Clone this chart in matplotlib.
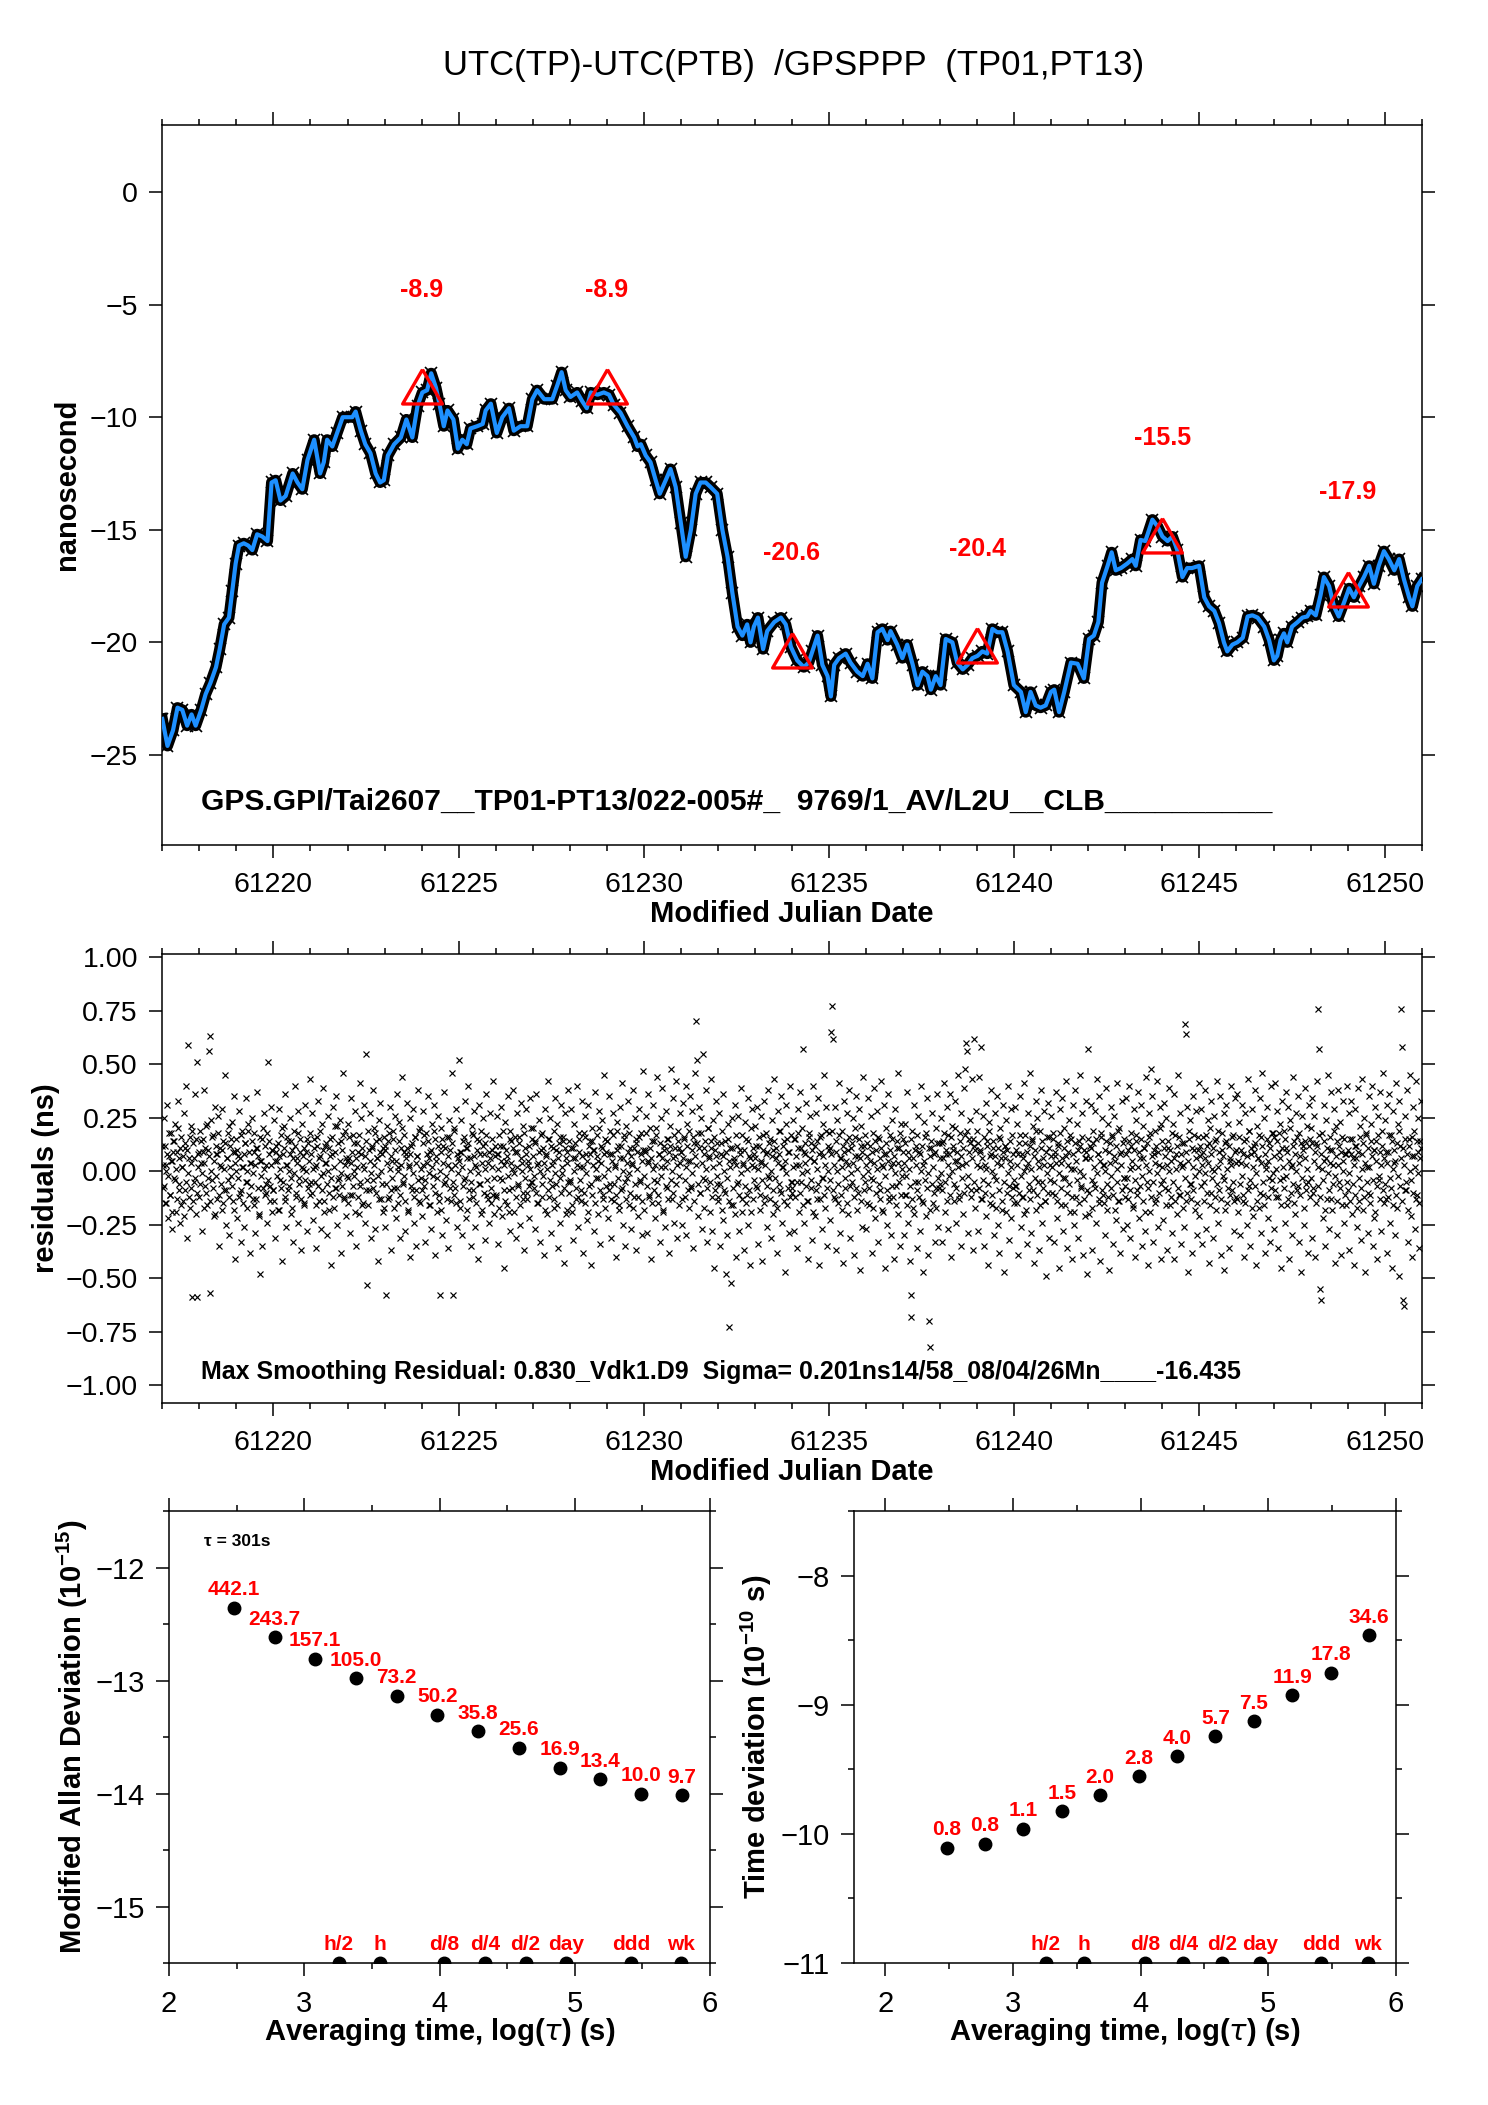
import numpy as np
import matplotlib
matplotlib.use("Agg")
import matplotlib.pyplot as plt
from matplotlib.ticker import MultipleLocator, FuncFormatter

plt.rcParams['font.family'] = ['Liberation Sans', 'DejaVu Sans']
plt.rcParams['mathtext.fontset'] = 'custom'
plt.rcParams['mathtext.rm'] = 'Liberation Sans'
plt.rcParams['mathtext.bf'] = 'Liberation Sans:bold'
plt.rcParams['axes.linewidth'] = 1.1

TITLE = "UTC(TP)-UTC(PTB)  /GPSPPP  (TP01,PT13)"
INFO_TOP = "GPS.GPI/Tai2607__TP01-PT13/022-005#_  9769/1_AV/L2U__CLB__________"
INFO_MID = "Max Smoothing Residual: 0.830_Vdk1.D9  Sigma= 0.201ns14/58_08/04/26Mn____-16.435"

# smoothed curve (days after MJD0, ns)
MJD0 = 61217.0
SMOOTH_DAY = [0.00, 0.14, 0.29, 0.41, 0.54, 0.67, 0.79, 0.90, 1.05, 1.17, 1.30, 1.45, 1.55, 1.67, 1.80,
              1.89, 1.98, 2.07, 2.20, 2.32, 2.43, 2.56, 2.70, 2.84, 2.95, 3.06, 3.19, 3.33, 3.52, 3.65,
              3.78, 3.92, 4.10, 4.26, 4.36, 4.45, 4.59, 4.72, 4.87, 5.00, 5.13, 5.22, 5.36, 5.48, 5.62,
              5.76, 5.88, 5.98, 6.09, 6.26, 6.44, 6.59, 6.75, 6.89, 7.02, 7.15, 7.26, 7.39, 7.48, 7.60,
              7.70, 7.86, 7.98, 8.10, 8.22, 8.32, 8.50, 8.65, 8.73, 8.87, 9.03, 9.18, 9.36, 9.49, 9.67,
              9.85, 9.99, 10.12, 10.31, 10.53, 10.66, 10.78, 10.89, 11.02, 11.20, 11.34, 11.46, 11.57,
              11.75, 11.92, 12.06, 12.19, 12.37, 12.56, 12.74, 12.83, 12.92, 13.05, 13.18, 13.32, 13.43,
              13.59, 13.72, 13.86, 14.00, 14.13, 14.27, 14.40, 14.53, 14.67, 14.80, 14.98, 15.12, 15.26,
              15.39, 15.53, 15.66, 15.79, 15.88, 15.97, 16.08, 16.22, 16.33, 16.52, 16.70, 16.83, 16.97,
              17.14, 17.32, 17.45, 17.55, 17.69, 17.82, 17.96, 18.05, 18.14, 18.27, 18.45, 18.58, 18.76,
              18.91, 19.04, 19.17, 19.31, 19.44, 19.58, 19.66, 19.84, 19.98, 20.11, 20.26, 20.39, 20.52,
              20.66, 20.75, 20.88, 21.01, 21.15, 21.33, 21.46, 21.61, 21.74, 21.87, 22.01, 22.14, 22.27,
              22.41, 22.54, 22.68, 22.82, 22.99, 23.18, 23.31, 23.44, 23.58, 23.71, 23.85, 23.99, 24.08,
              24.21, 24.35, 24.53, 24.71, 24.88, 25.02, 25.15, 25.27, 25.37, 25.52, 25.63, 25.74, 25.88,
              26.05, 26.19, 26.28, 26.41, 26.54, 26.73, 26.87, 27.00, 27.14, 27.27, 27.40, 27.54, 27.67,
              27.80, 27.99, 28.13, 28.26, 28.40, 28.53, 28.66, 28.75, 28.89, 29.02, 29.17, 29.30, 29.43,
              29.57, 29.75, 29.88, 30.01, 30.10, 30.19, 30.28, 30.37, 30.50, 30.65, 30.78, 30.91, 31.00,
              31.14, 31.27, 31.36, 31.50, 31.63, 31.76, 31.91, 32.04, 32.17, 32.31, 32.44, 32.58, 32.71,
              32.84, 32.98, 33.11, 33.26, 33.39, 33.52, 33.66, 33.75, 33.88, 34.00]
SMOOTH_NS = [-23.4, -24.6, -23.9, -22.9, -23.0, -23.7, -23.2, -23.7, -23.0, -22.3, -21.8, -21.1, -20.3, -19.2, -18.9,
             -17.7, -16.5, -15.7, -15.6, -15.7, -15.9, -15.2, -15.3, -15.5, -12.9, -12.8, -13.7, -13.5, -12.5, -12.9,
             -13.2, -11.9, -11.0, -12.5, -12.0, -11.0, -11.3, -10.7, -10.0, -10.0, -10.0, -9.75, -10.6, -11.2, -11.6,
             -12.5, -12.9, -12.8, -11.7, -11.2, -10.9, -10.1, -10.9, -9.5, -8.9, -8.8, -8.05, -8.7, -9.4, -10.4,
             -9.7, -10.1, -11.4, -11.0, -11.2, -10.5, -10.4, -10.3, -9.7, -9.4, -10.7, -10.0, -9.6, -10.6, -10.4,
             -10.4, -9.2, -8.8, -9.2, -9.2, -8.6, -8.0, -8.8, -9.1, -8.9, -9.3, -9.6, -8.9,
             -9.0, -8.9, -9.0, -9.45, -9.8, -10.4, -10.9, -11.3, -11.2, -11.7, -12.0, -12.8, -13.4,
             -12.8, -12.3, -13.1, -14.7, -16.2, -15.0, -13.4, -12.9, -12.9, -13.1, -13.4, -15.0, -16.2,
             -17.8, -19.3, -19.7, -19.2, -20.0, -19.3, -18.9, -20.3, -19.5, -19.1, -18.9, -19.2, -20.2,
             -20.8, -21.1, -20.9, -20.4, -19.7, -21.0, -21.5, -22.4, -21.0, -20.7, -20.5, -20.9, -21.3,
             -21.5, -20.95, -21.6, -19.55, -19.4, -19.9, -19.5, -20.1, -20.7, -20.1, -21.0, -21.9, -21.3,
             -21.5, -22.1, -21.5, -21.9, -19.85, -20.0, -20.9, -21.2, -21.0, -20.7, -20.6, -20.4, -20.5,
             -19.4, -19.55, -19.55, -20.4, -21.9, -22.2, -23.1, -22.2, -22.8, -22.9, -22.8, -22.2, -22.1,
             -23.1, -22.2, -20.9, -20.95, -21.6, -19.85, -19.7, -19.1, -17.35, -16.6, -16.0, -16.8, -16.7,
             -16.5, -16.3, -16.6, -15.45, -15.5, -14.55, -14.85, -15.3, -15.5, -15.3, -15.9, -17.1, -16.7,
             -16.7, -16.6, -18.0, -18.4, -18.6, -19.15, -20.0, -20.4, -20.1, -20.0, -19.8, -18.85, -18.8,
             -18.9, -19.3, -19.9, -20.8, -20.6, -19.9, -19.6, -20.0, -19.3, -19.1, -18.9, -18.85, -18.6,
             -18.8, -17.9, -17.1, -17.5, -18.4, -18.85, -18.2, -17.6, -18.0, -17.5, -17.1, -16.6, -17.4,
             -16.6, -15.95, -16.3, -16.8, -16.3, -17.2, -18.0, -18.4, -17.5, -17.2]

TRI_MJD = [61224, 61229, 61234, 61239, 61244, 61249]
TRI_NS = [-8.9, -8.9, -20.6, -20.4, -15.5, -17.9]

# residuals in 0.01 ns, one row per day: wider scatter incl. outliers
RESID_ROWS = [
    [12, -8, 25, -15, 3, 31, -22, 7, -11, 18, -27, 5, 14, -3, 22, -19, 9, 33, -6, -24, 16, 2, -14, 27, -9, 11, 40, -31, 59, 6, -17, 21, -59, 13, -5, 36, -20, 51, -59, 8],
    [-12, 19, 4, -28, 15, 38, -7, 21, -16, 10, 56, 63, -57, 24, -4, 17, -21, 30, 8, -13, 26, -35, 11, 2, -18, 29, 14, -9, 45, -25, 6, 18, -30, 12, -2, 23, -14, 35, -41, 9],
    [15, -22, 7, 28, -10, -33, 19, 2, -26, 13, 34, -5, -17, 22, 9, -38, 4, 25, -13, 18, -29, 11, 37, -8, -21, -48, 16, 5, -35, 20, 27, -11, 3, -24, 51, 14, -7, 30, -19, 10],
    [-9, 24, -31, 12, 5, -18, 29, -4, 17, -42, 8, 21, -14, 36, -26, 3, 14, -7, 25, -20, 10, -33, 19, 40, -12, 6, -24, 28, -3, 15, -37, 22, 1, -16, 31, 9, -28, 13, -6, 43],
    [18, -5, 27, -23, 11, 2, -36, 16, 33, -14, 7, -27, 22, -1, 39, -19, 12, 4, -30, 26, -10, 15, -44, 8, 30, -17, 21, -8, 35, -25, 13, -3, 24, -38, 10, 46, -12, 19, -21, 5],
    [-15, 22, 6, -29, 34, -11, 17, -2, 28, -35, 13, 9, -20, 41, -7, 25, -16, 3, 31, -24, 55, -53, 19, -9, 27, -31, 11, 38, -4, 20, -27, 14, 6, -42, 24, 32, -13, 8, -19, 16],
    [10, -26, -58, 21, 14, -12, 30, -37, 5, 19, -8, 26, -22, 36, 2, -15, 23, -31, 11, 44, -6, 17, -28, 8, 32, -18, 3, -40, 25, 12, -9, 29, -24, 16, -35, 7, 38, -14, 20, -3],
    [-21, 13, 28, -7, -33, 18, 4, 35, -16, 9, -27, 22, -2, 31, -39, 15, 7, -19, 26, -11, -58, 20, -30, 12, 37, -5, -23, 16, 3, -36, 24, 10, -14, 46, -58, 19, -8, 29, -26, 6],
    [52, -17, 9, 24, -30, 14, -4, 33, -22, 11, 40, -13, 6, -35, 21, 17, -9, 28, -26, 2, 15, -41, 31, -6, 19, -18, 25, 8, -32, 13, 36, -11, 4, -24, 27, -15, 10, 42, -20, 7],
    [-12, 26, -34, 8, 17, -3, 30, -21, 12, -45, 23, 5, -16, 35, -9, 19, -28, 14, 1, 38, -19, 9, -31, 27, -7, 16, -25, 32, 4, -13, 21, -37, 11, 29, -10, 3, -22, 34, -5, 15],
    [20, -8, 13, -27, 36, -15, 4, 24, -33, 10, 18, -2, -39, 29, 7, -20, 15, 42, -12, 25, -29, 3, 11, -17, 34, -6, 22, -36, 9, 16, -24, 31, -1, 14, -43, 27, 6, -18, 38, -10],
    [-4, 29, -19, 11, -32, 22, 6, -13, 40, -26, 15, 2, -9, 33, -38, 18, 26, -15, 8, -23, 31, -7, 14, -44, 20, 10, -28, 37, -3, 17, -20, 5, 28, -34, 12, 24, -11, 45, -17, 9],
    [14, -22, 35, -6, 19, -31, 8, 27, -14, 3, -40, 23, 12, -18, 30, -9, 41, -25, 6, 17, -35, 21, -3, 33, -16, 11, -27, 4, 38, -12, 25, -37, 15, 9, -21, 29, -5, 18, -30, 47],
    [-18, 10, 26, -29, 5, 36, -11, 20, -41, 14, 31, -4, -22, 17, 44, -15, 8, -33, 25, 2, 39, -19, 12, -26, 28, -8, 15, -38, 21, 48, -13, 6, 34, -24, 11, 42, -31, 19, -2, 27],
    [9, -25, 32, 16, -12, 40, -30, 22, 5, -17, 35, -8, 28, -36, 13, 46, 70, 52, -21, 18, 30, -10, 25, -27, 55, 11, -4, 38, -33, 20, 7, -19, 43, 14, -28, 24, -45, 10, 33, -6],
    [-14, 27, -35, 8, 19, -23, 36, -9, 14, -48, -30, 22, -73, 11, -52, 25, -16, 5, 31, -40, 17, -6, 26, -28, 10, 39, -19, 3, -37, 23, 15, -11, 34, -25, 7, -44, 20, 29, -13, 2],
    [21, -7, 30, -34, 12, -18, 26, 4, -42, 17, 33, -12, 8, -26, 38, -3, 15, -31, 24, 10, -20, 43, -15, 6, -38, 28, 19, -9, 35, -24, 2, 14, -47, 22, 31, -16, 9, -29, 40, -5],
    [-10, 24, -28, 15, 3, -36, 29, 11, -19, 37, -5, 20, 57, -24, 8, 32, -14, -41, 18, 26, -8, 13, -32, 40, 5, -21, 27, -13, 34, -44, 16, 9, -27, 22, -3, 45, -17, 30, -35, 12],
    [18, -23, 65, 77, 62, -12, 30, -37, 9, 24, -15, 41, -29, 6, 19, -43, 33, -8, 14, 27, -20, 3, 38, -31, 11, -5, 25, -39, 16, 35, -18, 7, 29, -46, 21, 12, -26, 44, -9, 17],
    [-27, 13, 34, -16, 5, 26, -38, 18, -4, 39, -22, 10, 28, -33, 15, -9, 42, -18, 2, 31, -45, 20, 8, -25, 36, -12, 17, -30, 24, 4, -41, 29, -7, 14, 46, -20, 11, -35, 22, -2],
    [15, -30, 22, -11, 37, -24, 6, -42, -68, -58, 19, -17, 31, -5, 12, -36, 26, 9, -28, 40, -14, 3, -47, 23, 16, -21, 34, -39, -70, -82, 11, 27, -15, 8, -33, 20, -8, 36, -26, 13],
    [-6, 25, -33, 14, 41, -19, 8, 30, -27, 17, -2, 36, -40, 21, 10, -14, 33, -24, 5, 45, -11, 18, -35, 27, 3, -20, 39, 48, 60, 56, -29, 15, 24, -9, 43, -37, 62, 12, -17, 28],
    [19, -28, 44, 9, 58, -13, 26, -35, 3, 32, -21, 14, -44, 23, 7, 38, -16, 11, -30, 27, -4, 35, -25, 16, -38, 20, 6, -18, 31, -47, 12, 24, -10, 40, -32, 5, 29, -22, 17, -8],
    [-15, 30, -7, 22, -39, 13, 35, -26, 8, -12, 41, -20, 17, 2, -34, 27, -9, 46, -29, 14, 21, -43, 10, 33, -18, 25, -5, -37, 19, 38, -24, 6, 28, -14, -49, 16, 32, -31, 11, 3],
    [26, -10, 18, -33, 7, 37, -22, 13, -45, 29, 4, -16, 34, -28, 20, -3, 42, -36, 9, 24, -19, 15, -41, 31, 1, -25, 38, -12, 22, -31, 14, 45, -8, 27, -39, 10, -21, 33, 6, -48],
    [57, -20, 12, 31, -37, 19, -6, 28, -24, 43, 8, -15, 35, -42, 16, 25, -11, 3, -30, 39, -18, 22, -46, 13, 30, -8, 17, -34, 26, 5, -23, 41, -14, 20, -38, 9, 33, -27, 15, -3],
    [-12, 34, -25, 10, 40, -31, 18, 2, -17, 29, -40, 14, 24, -9, 37, -22, 6, 31, -35, 21, 11, -28, 44, -5, -44, 16, 27, -19, 48, 35, -33, 8, 19, -13, 42, -26, 3, 30, -41, 22],
    [14, -23, 32, -8, 25, -37, 11, 39, -16, 5, -29, 22, 36, -41, 17, 8, -20, 45, -11, 27, -34, 13, 3, -26, 69, 64, -14, 30, -47, 19, 24, -6, -38, 35, 10, -18, 28, -30, 16, 41],
    [-21, 7, 29, -34, 16, -5, 38, -27, 12, 24, -43, 20, -10, 33, 1, -31, 26, 14, -18, 42, -24, 9, 35, -39, 18, -2, 27, -46, 13, 31, -15, 22, -36, 5, 40, -9, 17, -28, 34, -12],
    [10, 36, -19, 23, -30, 4, 31, -14, -40, 27, 15, -25, 43, -7, 19, -35, 8, 29, -21, 12, 38, -44, 21, 6, -17, 34, -29, 16, 46, -11, 25, -38, 3, 30, -22, 13, -33, 40, -4, 18],
    [-27, 16, 41, -12, 28, -36, 9, 22, -45, 33, -3, 19, -24, 37, 11, -16, 30, -41, 24, 2, -30, 44, 14, -20, 27, -9, 35, -33, 18, 7, -47, 26, 12, -25, 39, -6, 21, -38, 31, 15],
    [20, -31, 34, -8, 26, -40, 13, 42, 76, 57, -55, -60, 18, -22, 31, 5, -35, 24, -13, 45, -27, 10, 37, -18, 3, 29, -43, 21, 14, -30, 38, -5, 23, -39, 16, 33, -24, 8, -16, 40],
    [-9, 27, -37, 15, 33, -20, 6, -44, 29, 12, -26, 39, -14, 21, -32, 8, 43, -18, 25, -47, 17, 2, -29, 35, -11, 22, 40, -35, 10, -22, 30, 14, -41, 26, -4, 37, -28, 19, 46, -15],
    [24, -13, 31, -38, 9, 36, -24, 17, -45, 28, 4, -30, 41, -17, 22, -49, 33, 12, 76, 58, -60, -63, 26, -9, 38, -33, 15, 45, -21, 7, -40, 30, 19, -27, 42, -11, 25, -36, 14, 33],
]
# residuals in 0.01 ns, one row per day: the dense core of the cloud
CORE_ROWS = [
    [3, -7, 12, -15, 0, 8, -2, 18, -11, 5, -19, 9, 14, -4, 1, -13, 20, 6, -9, 11, -16, 2, 7, -21, 13, -5, 10, -1, -12, 16, 4, -8, 19, -14, 6, -3, 15, -10, 2, 9],
    [-6, 14, -1, 9, -17, 4, 11, -10, 22, -3, 7, -14, 0, 16, -8, 5, -20, 12, -2, 8, 18, -11, 3, -6, 10, -15, 1, 13, -9, 6, -4, 21, -12, 2, 15, -7, 9, -18, 4, 0],
    [10, -3, -12, 6, 17, -9, 2, -15, 8, 13, -5, 0, 19, -11, 4, -7, 14, -1, -16, 9, 3, -13, 11, 7, -20, 5, -2, 15, -8, 1, 12, -6, -10, 18, -4, 8, -14, 3, 10, -9],
    [-14, 5, 9, -2, 13, -18, 7, 1, -8, 20, -5, 11, -12, 3, 16, -9, 0, 8, -3, 14, -17, 6, -1, 12, -10, 4, 18, -6, 9, -13, 2, 7, -15, 11, -4, 0, 15, -8, 5, -11],
    [8, -10, 1, 15, -5, 3, -16, 12, -7, 6, 19, -2, -9, 10, -14, 4, 13, -6, 0, -18, 11, 7, -3, 16, -12, 2, 9, -8, 21, -4, -11, 5, 14, -1, -7, 17, -13, 3, 6, -2],
    [-3, 16, -11, 4, 9, -7, 0, 13, -19, 6, 2, -12, 17, -5, 8, 11, -15, 1, 7, -9, 14, -4, -16, 10, 5, -1, 12, -8, 3, 18, -10, 6, -2, 15, -13, 9, 0, -6, 11, -17],
    [12, -6, 4, -13, 18, 1, -9, 7, -3, 15, -17, 10, 5, -8, 0, 14, -11, 3, 20, -5, -2, 9, -14, 6, 11, -19, 2, 8, -7, 13, -1, -12, 16, 4, -9, 7, -4, 19, -15, 1],
    [-9, 3, 17, -4, -12, 8, 14, -1, 6, -16, 10, 2, -7, 19, -10, 5, -3, 12, -14, 0, 9, -18, 15, 4, -6, 11, -2, -13, 7, 16, -8, 1, 13, -5, -11, 20, 3, -15, 8, -1],
    [5, -14, 9, 2, -7, 16, -3, 11, -18, 6, 13, -9, 0, -5, 18, -12, 7, 3, -15, 10, -1, 14, -6, 8, -20, 4, 12, -10, 1, 17, -4, -13, 9, 6, -8, 2, 15, -11, -3, 12],
    [-11, 8, 1, -17, 12, 5, -4, 19, -9, 3, -14, 10, 7, -2, -19, 15, 4, -8, 11, -1, 16, -12, 2, 9, -6, 13, -16, 6, 0, -10, 18, -3, 8, -13, 5, 12, -7, 1, 20, -5],
    [7, -2, 14, -10, 3, -15, 9, 0, 17, -6, -12, 11, 4, -18, 8, 1, -9, 15, -4, 12, -7, 5, 19, -13, -1, 10, -16, 6, 13, -3, -10, 2, 16, -8, 11, -20, 4, 9, -5, 14],
    [-5, 11, -16, 6, 0, 13, -8, 3, -12, 18, 9, -4, -14, 7, 2, -10, 16, -1, 5, -19, 12, 8, -6, 14, -11, 3, 10, -15, 1, 7, -3, 20, -9, 4, 11, -13, -2, 8, 15, -7],
    [14, 1, -9, 8, -13, 5, 17, -6, 2, -11, 10, 19, -3, -16, 6, 12, -8, 0, 15, -5, -13, 4, 9, -1, 18, -10, 7, 3, -17, 11, -6, 13, 1, -12, 16, -4, 8, -14, 5, 10],
    [-2, 9, 18, -7, 4, -12, 11, 6, -15, 1, 14, -9, 3, 20, -5, -11, 8, 13, -2, 6, -18, 10, 2, -7, 15, 5, -13, 9, 12, -4, 0, -10, 17, 7, -6, 3, 14, -16, 11, 4],
    [9, -13, 6, 15, -4, 2, 12, -9, 19, 5, -7, 10, -1, 16, -14, 7, 3, 13, -6, 11, -10, 18, 4, -3, 8, -17, 14, 1, -8, 20, 6, -5, 11, -12, 2, 16, -9, 7, 13, -2],
    [-12, 4, -6, 13, -18, 7, 0, -10, 9, -3, 15, -14, 5, 2, -16, 11, -8, 6, -20, 3, 12, -5, -11, 8, -1, 17, -13, 4, 10, -7, -15, 1, 14, -9, 6, -19, 3, 11, -4, 8],
    [6, 12, -8, 1, 16, -11, 5, -4, 10, -15, 3, 18, -7, 9, -2, 13, -13, 0, 7, -9, 14, -3, 11, -17, 4, 8, -6, 19, -10, 2, 12, -14, 5, -1, 15, -8, 9, -12, 17, -5],
    [-8, 2, 15, -12, 7, -5, 18, 3, -10, 11, -1, -16, 9, 4, 13, -7, 0, -14, 16, 6, -4, 10, -19, 5, 12, -9, 1, 14, -6, 8, -13, 17, -3, 7, -11, 3, 19, -8, 0, 10],
    [11, -4, 8, 19, -9, 3, -13, 14, 0, -6, 17, 6, -11, 2, -18, 12, 9, -3, 5, -15, 10, 16, -7, -1, 13, 4, -12, 7, 20, -8, 1, -10, 15, 6, -14, 9, -2, 12, -5, 3],
    [-15, 7, 0, -8, 12, -3, 9, -17, 4, 14, -10, 1, 16, -6, 6, -13, 11, 3, -19, 8, -2, 13, -9, 5, -14, 10, 2, -7, 15, -12, 7, -1, -16, 11, 4, -5, 18, -11, 1, 9],
    [4, -11, 13, -2, -16, 9, 1, -7, 15, -13, 6, -20, 10, 3, -9, 17, -5, -12, 8, 0, 12, -15, 5, -4, 18, -8, -1, 11, -18, 7, 14, -6, 2, -10, 9, -17, 13, -3, -8, 6],
    [-1, 13, -9, 6, 18, -5, 10, -14, 3, 8, -11, 16, 0, 12, -6, 5, 20, -8, 9, 2, -13, 14, 7, -3, 11, -10, 17, 4, -7, 19, -2, 9, 13, -12, 6, 15, -5, 10, -9, 3],
    [13, -8, 2, 10, -13, 6, -4, 16, -10, 1, 12, -6, 19, -15, 8, 0, -11, 14, -2, 7, -17, 4, 11, -9, 15, 3, -14, 9, -5, 12, 6, -19, 10, -1, -7, 14, 2, -12, 8, -4],
    [-7, 10, -15, 3, 8, -10, 17, -2, -12, 6, 0, 13, -18, 9, 4, -6, 12, -13, 1, 15, -9, 7, -3, 19, -11, 5, 2, -16, 11, -5, 14, -8, 3, -14, 9, -1, -10, 16, -4, 7],
    [2, 15, -5, -11, 9, 4, -14, 12, -1, 18, -8, 6, -3, 11, -16, 7, 14, -10, 3, -6, 17, 1, -12, 8, -19, 13, 5, -4, 10, -15, 0, 12, -7, 16, -2, -13, 6, 9, -9, 15],
    [-10, 6, 11, -4, -17, 13, 2, -8, 15, -1, 8, -13, 5, 18, -9, 3, -15, 10, 0, 14, -6, -12, 9, 4, -2, 16, -11, 7, -18, 12, 1, -5, 19, -14, 8, 3, -9, 13, -3, -7],
    [8, -3, -13, 14, 1, -9, 12, 5, -16, 10, -4, 17, -11, 2, 9, -7, 15, -2, -14, 6, 11, -19, 3, 13, -8, 0, 18, -12, 7, -5, 10, 4, -15, 12, -1, 9, -10, 20, -6, 2],
    [-4, 11, 7, -16, 3, 14, -9, 0, 10, -12, 18, -5, 6, -14, 1, 12, -8, 16, 4, -11, 8, 2, -17, 13, -3, 9, -10, 5, 15, -6, -13, 11, 2, -9, 17, -2, 6, -15, 10, 0],
    [12, -7, 3, 9, -14, 6, -1, 17, -10, 4, 13, -16, 8, -3, 11, 0, -12, 15, -6, 2, 19, -9, 5, -13, 10, 7, -4, -18, 14, 1, -8, 12, 6, -11, 3, 16, -5, -14, 9, 4],
    [-13, 5, 16, -6, 10, -2, -11, 8, 14, -15, 3, 7, -9, 19, -4, 11, -17, 2, 9, -7, 13, -1, -14, 6, 17, -10, 4, 12, -5, -16, 8, 1, 15, -12, 5, -3, 11, -8, 18, -1],
    [7, -9, 1, 14, -12, 18, -4, 6, -16, 11, 2, -8, 15, -2, 9, -13, 5, 20, -10, 3, -6, 12, -15, 8, 0, 16, -7, 4, -11, 13, -3, 10, -17, 6, 14, -9, 1, -5, 12, -12],
    [-3, 13, -10, 5, 9, -15, 12, 2, -7, 17, -12, 8, 1, -4, 14, -18, 6, 11, -1, -9, 16, 4, -13, 10, -6, 19, -2, 7, -14, 3, 12, -8, 9, -16, 5, 0, 15, -11, 8, -5],
    [10, -1, -14, 8, 15, -6, 3, -11, 12, 6, -17, 9, -3, 16, -8, 1, 13, -12, 4, 18, -5, -10, 11, 2, -15, 14, 7, -4, 10, -19, 5, -7, 17, -2, 9, -13, 3, 12, -9, 6],
    [-6, 9, 4, -12, 17, -3, -8, 14, 1, -16, 10, 5, -11, 13, -2, 19, -7, 6, -14, 11, 3, -9, 15, -5, 8, -18, 12, 0, -4, 16, -10, 7, 2, -13, 14, -1, 9, -15, 6, 11],
]
SPAN_DAYS = 34.0

# stability points
TAU_S = [301, 602, 1204, 2408, 4816, 9632, 19264, 38528, 77056, 154112, 308224, 616448]
MDEV = [442.1, 243.7, 157.1, 105.0, 73.2, 50.2, 35.8, 25.6, 16.9, 13.4, 10.0, 9.7]       # 1e-15
TDEV = [0.78, 0.84, 1.1, 1.5, 2.0, 2.8, 4.0, 5.7, 7.5, 11.9, 17.8, 34.6]                 # 1e-10 s
MARK_S = [1800, 3600, 10800, 21600, 43200, 86400, 259200, 604800]
MARK_LBL = ["h/2", "h", "d/8", "d/4", "d/2", "day", "ddd", "wk"]

W, H = 1488, 2105
fig = plt.figure(figsize=(W / 100, H / 100), dpi=100)

TICK_FS = 20.5
LAB_FS = 21


def style(ax, xmaj, xmin, ymaj, ymin=None, fs=TICK_FS):
    ax.xaxis.set_major_locator(MultipleLocator(xmaj))
    ax.xaxis.set_minor_locator(MultipleLocator(xmin))
    ax.yaxis.set_major_locator(MultipleLocator(ymaj))
    if ymin:
        ax.yaxis.set_minor_locator(MultipleLocator(ymin))
    ax.tick_params(which='both', direction='out', top=True, right=True, width=1.1, labelsize=fs)
    ax.tick_params(which='major', length=9.5)
    ax.tick_params(which='minor', length=4.5)
    ax.tick_params(axis='x', pad=10)
    ax.tick_params(axis='y', pad=8)


# ---- top: the series
ax1 = fig.add_axes([162.3 / W, 1 - 845 / H, 1259.4 / W, 720.5 / H])
t_s = MJD0 + np.array(SMOOTH_DAY)
ax1.plot(t_s, SMOOTH_NS, color='black', lw=8, marker='x', ms=9, mew=1.2, zorder=2)
ax1.plot(t_s, SMOOTH_NS, color='#1e90ff', lw=3, zorder=3)
tri = [(0, 0.577), (-0.5, -0.289), (0.5, -0.289), (0, 0.577)]
ax1.plot(TRI_MJD, TRI_NS, ls='none', marker=tri, ms=33, mfc='none', mec='red', mew=2.4, zorder=4)
for x, v in zip(TRI_MJD, TRI_NS):
    ax1.annotate(f"{v:.1f}", (x, v), xytext=(0, 74), textcoords='offset points',
                 ha='center', va='center', color='red', fontsize=18, fontweight='bold')
ax1.set_xlim(61217, 61251)
ax1.set_ylim(-29, 3)
style(ax1, 5, 1, 5)
ax1.set_xlabel("Modified Julian Date", fontsize=LAB_FS, fontweight='bold')
ax1.xaxis.set_label_coords(0.5, -0.096)
ax1.xaxis.label.set_va('center')
ax1.set_ylabel("nanosecond", fontsize=LAB_FS, fontweight='bold')
ax1.yaxis.set_label_coords(-0.0757, 0.5)
ax1.yaxis.label.set_va('center')
ax1.text(0.0304, 0.0597, INFO_TOP, transform=ax1.transAxes, fontsize=21.6, fontweight='bold', va='center')
fig.text(0.533, 1 - 65 / H, TITLE, ha='center', va='center', fontsize=25)

# ---- middle: residuals
ax2 = fig.add_axes([162.3 / W, 1 - 1403.2 / H, 1259.4 / W, 449.4 / H])
res = np.concatenate([np.array(r, float) for r in RESID_ROWS]) / 100.0
core = np.concatenate([np.array(r, float) for r in CORE_ROWS]) / 100.0
t_r = MJD0 + np.arange(res.size) * SPAN_DAYS / res.size
t_c = MJD0 + (np.arange(core.size) + 0.5) * SPAN_DAYS / core.size
ax2.plot(t_r, res, ls='none', marker='x', ms=5, mew=0.85, color='black')
ax2.plot(t_c, core, ls='none', marker='x', ms=5, mew=0.85, color='black')
ax2.set_xlim(61217, 61251)
ax2.set_ylim(-1.084, 1.016)
style(ax2, 5, 1, 0.25)
ax2.yaxis.set_major_formatter(FuncFormatter(lambda v, p: f"{v:.2f}".replace('-0.00', '0.00').replace('-', '\u2212')))
ax2.set_xlabel("Modified Julian Date", fontsize=LAB_FS, fontweight='bold')
ax2.xaxis.set_label_coords(0.5, -0.153)
ax2.xaxis.label.set_va('center')
ax2.set_ylabel("residuals (ns)", fontsize=LAB_FS, fontweight='bold')
ax2.yaxis.set_label_coords(-0.092, 0.5)
ax2.yaxis.label.set_va('center')
ax2.text(0.0304, 0.069, INFO_MID, transform=ax2.transAxes, fontsize=18, fontweight='bold', va='center')

# ---- bottom: stability
lt = np.log10(TAU_S)
lm = np.log10(MARK_S)


def bottom(ax, y, labels, ylo):
    ax.plot(lt, y, ls='none', marker='o', ms=9, color='black', zorder=3)
    for x, v, s in zip(lt, y, labels):
        ax.annotate(s, (x, v), xytext=(0, 13), textcoords='offset points', ha='center', va='center',
                    color='red', fontsize=15, fontweight='bold')
    ax.plot(lm, [ylo] * len(lm), ls='none', marker='o', ms=9, color='black', zorder=3)
    for x, s in zip(lm, MARK_LBL):
        ax.annotate(s, (x, ylo), xytext=(0, 13.5), textcoords='offset points', ha='center', va='center',
                    color='red', fontsize=15, fontweight='bold')
    style(ax, 1, 0.5, 1, 0.5, fs=21)
    ax.set_xlabel(r"Averaging time, log($\tau$) (s)", fontsize=LAB_FS, fontweight='bold')
    ax.xaxis.set_label_coords(0.5, -0.153)
    ax.xaxis.label.set_va('center')


ax3 = fig.add_axes([169.1 / W, 1 - 1963 / H, 541 / W, 451.6 / H])
ax3.set_xlim(2, 6)
ax3.set_ylim(-15.5, -11.5)
bottom(ax3, np.log10(np.array(MDEV) * 1e-15), [f"{m:.1f}" for m in MDEV], -15.5)
ax3.set_ylabel(r"Modified Allan Deviation (10$^{\mathbf{-15}}$)", fontsize=LAB_FS, fontweight='bold')
ax3.yaxis.set_label_coords(-0.178, 0.5)
ax3.yaxis.label.set_va('center')
ax3.text(0.064, 0.934, "\u03c4 = 301s", transform=ax3.transAxes, fontsize=12.5, fontweight='bold', va='center')

ax4 = fig.add_axes([853.6 / W, 1 - 1963 / H, 542.2 / W, 451.6 / H])
ax4.set_xlim(1.75, 6)
ax4.set_ylim(-11, -7.5)
bottom(ax4, np.log10(np.array(TDEV) * 1e-10), [f"{d:.1f}" for d in TDEV], -11)
ax4.set_ylabel(r"Time deviation (10$^{\mathbf{-10}}$ s)", fontsize=LAB_FS, fontweight='bold')
ax4.yaxis.set_label_coords(-0.1785, 0.5)
ax4.yaxis.label.set_va('center')

fig.savefig("out.png", dpi=100, facecolor='white')
